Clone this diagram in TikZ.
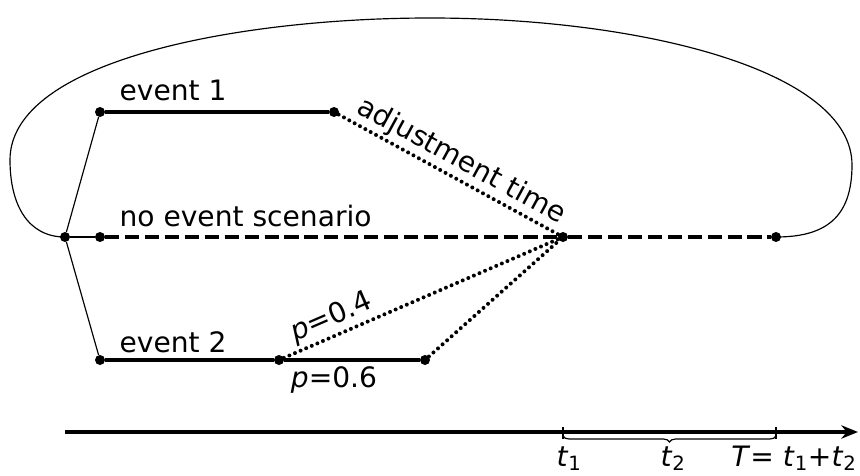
\documentclass[tikz,border=0pt]{standalone}
\usepackage{fontspec}
\setmainfont{DejaVu Sans}
\usetikzlibrary{arrows.meta,decorations.pathreplacing}
\tikzset{dot/.style={circle,fill=black,inner sep=0pt,minimum size=0.3cm},
  thinline/.style={line width=1pt},
  eventline/.style={line width=3.6pt},
  baseline/.style={line width=3.6pt,dash pattern=on 12pt off 5pt},
  adjline/.style={line width=3.4pt,dash pattern=on 0pt off 5.2pt,line cap=round},
  lbl/.style={font=\fontsize{24}{28}\selectfont,inner sep=2pt}}

\begin{document}
\begin{tikzpicture}[x=0.03cm,y=-0.03cm]
\useasboundingbox (0,0) rectangle (860,476);
% scenario tree
\node[dot] (root) at (65,237) {};
\node[dot] (ev1a) at (100,112) {};
\node[dot] (ev1b) at (334,112) {};
\node[dot] (nea) at (100,237) {};
\node[dot] (adj) at (563,237) {};
\node[dot] (neb) at (776,237) {};
\node[dot] (ev2a) at (100,360) {};
\node[dot] (ev2b) at (279,360) {};
\node[dot] (ev2c) at (425,360) {};
% outer loop
\draw[thinline] (root.center) .. controls (28,237) and (10,205) .. (10,160)
  .. controls (10,60) and (240,18) .. (430,18)
  .. controls (640,18) and (852,70) .. (852,165)
  .. controls (852,218) and (825,237) .. (neb.center);
\draw[thinline] (root) -- (ev1a);
\draw[thinline] (root) -- (nea);
\draw[thinline] (root) -- (ev2a);
\draw[eventline] (ev1a) -- (ev1b);
\draw[eventline] (ev2a) -- (ev2b) -- (ev2c);
\draw[baseline] (nea) -- (adj) -- (neb);
\draw[adjline] (ev1b) -- node[lbl,sloped,above,pos=0.52] {adjustment time} (adj);
\draw[adjline] (ev2b) -- node[lbl,sloped,above,pos=0.2] {\textit{p}=0.4} (adj);
\draw[adjline] (ev2c) -- (adj);
\node[lbl,anchor=base west] (ev1lbl) at (117,100) {event 1};
\node[lbl,anchor=base west] (nelbl) at (117,226) {no event scenario};
\node[lbl,anchor=base west] (ev2lbl) at (117,352) {event 2};
\node[lbl,anchor=base] (p6lbl) at (334,387) {\textit{p}=0.6};
% time axis
\coordinate (tstart) at (65,432);
\coordinate (tend) at (858,432);
\coordinate (tone) at (563,432);
\coordinate (ttot) at (776,432);
\draw[line width=2.6pt,-{Stealth[length=5mm,width=4mm]}] (tstart) -- (tend);
\draw[line width=2.4pt] ([yshift=0.15cm]tone) -- ([yshift=-0.2cm]tone);
\draw[line width=2.4pt] ([yshift=0.15cm]ttot) -- ([yshift=-0.2cm]ttot);
\draw[thinline,decorate,decoration={brace,mirror,amplitude=0.18cm}]
  ([yshift=-0.12cm]tone) -- ([yshift=-0.12cm]ttot);
\node[lbl,anchor=base] (t1lbl) at (569,466) {\textit{t}\textsubscript{1}};
\node[lbl,anchor=base] (t2lbl) at (673,466) {\textit{t}\textsubscript{2}};
\node[lbl,anchor=base] (Tlbl) at (794,466) {\textit{T}= \textit{t}\textsubscript{1}+\textit{t}\textsubscript{2}};
\end{tikzpicture}
\end{document}
